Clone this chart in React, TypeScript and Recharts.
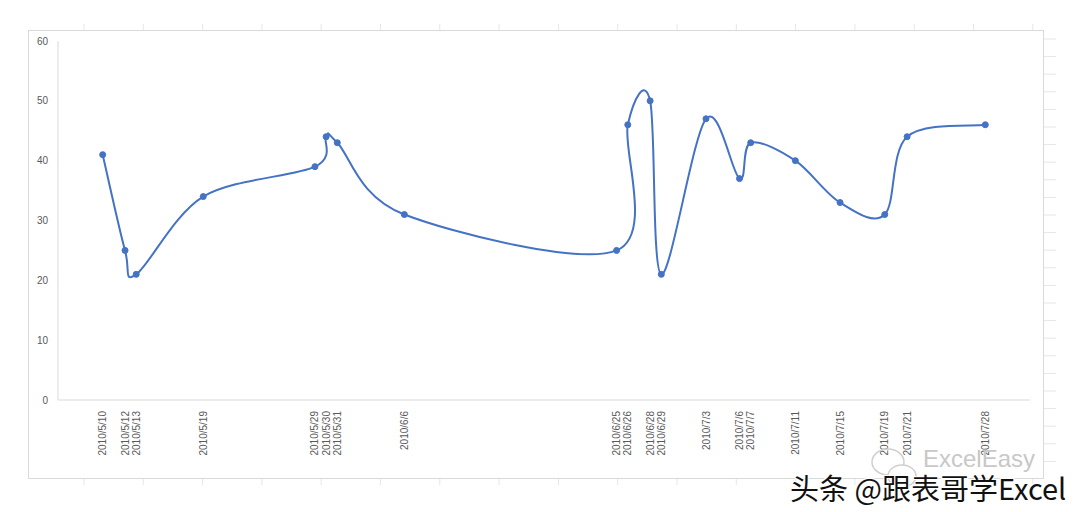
import React from "react";
import { LineChart, Line, XAxis, YAxis } from "recharts";

const dates = [
  "2010/5/10", "2010/5/12", "2010/5/13", "2010/5/19", "2010/5/29", "2010/5/30", "2010/5/31",
  "2010/6/6", "2010/6/25", "2010/6/26", "2010/6/28", "2010/6/29", "2010/7/3", "2010/7/6",
  "2010/7/7", "2010/7/11", "2010/7/15", "2010/7/19", "2010/7/21", "2010/7/28",
];
const values = [41, 25, 21, 34, 39, 44, 43, 31, 25, 46, 50, 21, 47, 37, 43, 40, 33, 31, 44, 46];
const yTicks = [0, 10, 20, 30, 40, 50, 60];
const xStart = "2010/5/6";
const xEnd = "2010/8/1";

const toTime = (s: string) => {
  const [y, m, d] = s.split("/").map(Number);
  return Date.UTC(y, m - 1, d);
};

const data = dates.map((d, i) => ({ t: toTime(d), label: d, v: values[i] }));
const xTicks = data.map((d) => d.t);
const labelOf: Record<number, string> = {};
data.forEach((d) => (labelOf[d.t] = d.label));

// Excel-like smoothed line: Catmull-Rom turned into cubic beziers
function excelCurve(context: any) {
  let pts: [number, number][] = [];
  return {
    areaStart() {},
    areaEnd() {},
    lineStart() {
      pts = [];
    },
    point(x: number, y: number) {
      pts.push([+x, +y]);
    },
    lineEnd() {
      const n = pts.length;
      if (!n) return;
      context.moveTo(pts[0][0], pts[0][1]);
      for (let i = 0; i < n - 1; i++) {
        const p0 = pts[Math.max(i - 1, 0)];
        const p1 = pts[i];
        const p2 = pts[i + 1];
        const p3 = pts[Math.min(i + 2, n - 1)];
        context.bezierCurveTo(
          p1[0] + (p2[0] - p0[0]) / 6,
          p1[1] + (p2[1] - p0[1]) / 6,
          p2[0] - (p3[0] - p1[0]) / 6,
          p2[1] - (p3[1] - p1[1]) / 6,
          p2[0],
          p2[1]
        );
      }
    },
  };
}

const DateTick = ({ x, y, payload }: any) => (
  <g transform={`translate(${x},${y})`}>
    <text transform="rotate(-90)" textAnchor="end" dy="0.35em" fontSize={10} fill="#595959">
      {labelOf[payload.value]}
    </text>
  </g>
);

export default function App() {
  const colMarks = Array.from({ length: 17 }, (_, i) => 84 + i * 59.3);
  const rowMarks = Array.from({ length: 25 }, (_, i) => 39 + i * 17.6);
  return (
    <div
      style={{
        position: "fixed",
        left: 0,
        top: 0,
        width: 1080,
        height: 512,
        background: "#fff",
        fontFamily: "'Liberation Sans', Arial, sans-serif",
        overflow: "hidden",
      }}
    >
      <svg width={1080} height={512} style={{ position: "absolute", left: 0, top: 0 }}>
        {colMarks.map((x) => (
          <g key={x}>
            <line x1={x} x2={x} y1={24} y2={30} stroke="#e6e6e6" />
            <line x1={x} x2={x} y1={478} y2={485} stroke="#e6e6e6" />
          </g>
        ))}
        {rowMarks.map((y) => (
          <line key={y} x1={1043} x2={1056} y1={y} y2={y} stroke="#e6e6e6" />
        ))}
        <rect x={28.5} y={30.5} width={1015} height={448} fill="#fff" stroke="#d9d9d9" />
      </svg>
      <div style={{ position: "absolute", left: 28, top: 30 }}>
        <LineChart width={1015} height={448} data={data} margin={{ top: 11, right: 13, bottom: 18, left: 0 }}>
          <XAxis
            dataKey="t"
            type="number"
            scale="time"
            domain={[toTime(xStart), toTime(xEnd)]}
            ticks={xTicks}
            interval={0}
            tick={<DateTick />}
            tickLine={false}
            tickSize={0}
            tickMargin={11}
            height={60}
            axisLine={{ stroke: "#d9d9d9" }}
          />
          <YAxis
            domain={[0, 60]}
            ticks={yTicks}
            width={30}
            tickLine={false}
            tickSize={0}
            tickMargin={10}
            axisLine={{ stroke: "#d9d9d9" }}
            tick={{ fontSize: 10, fill: "#595959" }}
          />
          <Line
            dataKey="v"
            type={excelCurve as any}
            stroke="#4472C4"
            strokeWidth={2}
            dot={{ r: 3, fill: "#4472C4", stroke: "#4472C4", strokeWidth: 1 }}
            isAnimationActive={false}
          />
        </LineChart>
      </div>
      <svg width={60} height={50} style={{ position: "absolute", left: 866, top: 446 }}>
        <ellipse cx={22} cy={16} rx={16} ry={13} fill="none" stroke="#cfcfcf" strokeWidth={1.5} />
        <ellipse cx={36} cy={30} rx={14} ry={11} fill="#fff" stroke="#cfcfcf" strokeWidth={1.5} />
      </svg>
      <div
        style={{
          position: "absolute",
          left: 923,
          top: 447,
          fontSize: 24,
          lineHeight: 1,
          color: "#c8c8c8",
          fontFamily: "'Liberation Sans', Arial, sans-serif",
        }}
      >
        ExcelEasy
      </div>
      <div
        style={{
          position: "absolute",
          left: 790,
          top: 473,
          fontSize: 29,
          lineHeight: 1,
          color: "#111",
          fontFamily: "'Noto Sans CJK SC', sans-serif",
          whiteSpace: "nowrap",
          textShadow: "1px 1px 0 #fff, -1px -1px 0 #fff, 1px -1px 0 #fff, -1px 1px 0 #fff",
        }}
      >
        头条 @跟表哥学Excel
      </div>
    </div>
  );
}
